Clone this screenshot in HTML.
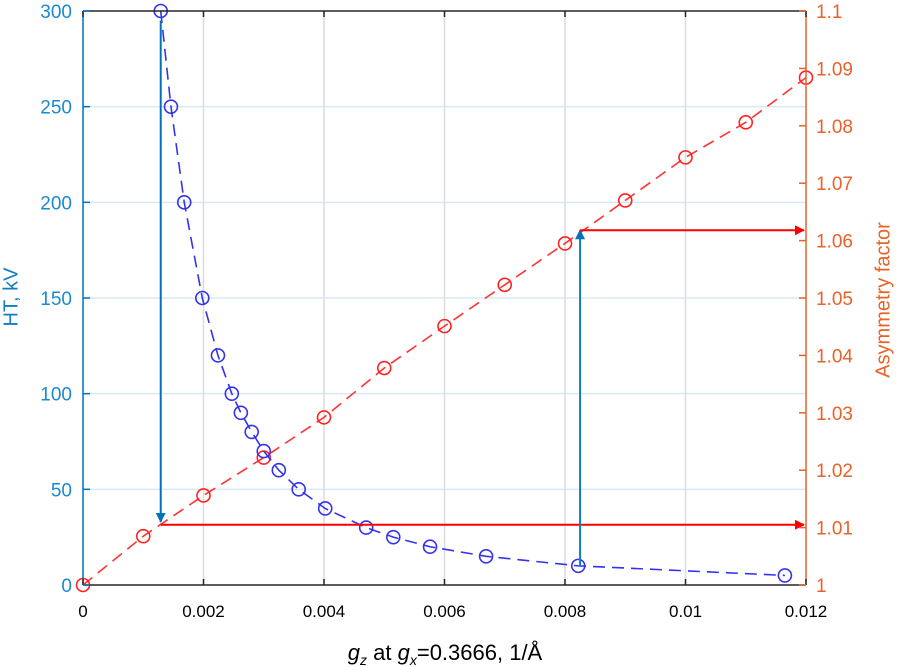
<!DOCTYPE html>
<html><head><meta charset="utf-8"><style>
body{margin:0;background:#fff;}
svg{display:block;font-family:"Liberation Sans",sans-serif;}
</style></head><body>
<svg id="chart" width="900" height="667" xmlns="http://www.w3.org/2000/svg">
<defs>
<marker id="ahB" markerWidth="10" markerHeight="10" refX="9" refY="5" orient="auto" markerUnits="userSpaceOnUse"><path d="M0,0 L10,5 L0,10 z" fill="#0072BD"/></marker>
<marker id="ahR" markerWidth="10" markerHeight="10" refX="9" refY="5" orient="auto" markerUnits="userSpaceOnUse"><path d="M0,0 L10,5 L0,10 z" fill="#ff0000"/></marker>
</defs>
<g id="grid"></g>
<g id="series"></g>
<g id="axes"></g>
<text x="12" y="297" transform="rotate(-90 12 297)" text-anchor="middle" dominant-baseline="middle" font-size="20" fill="#0f7dc2">HT, kV</text>
<text x="884" y="300" transform="rotate(-90 884 300)" text-anchor="middle" dominant-baseline="middle" font-size="20" fill="#e8622a">Asymmetry factor</text>
<text x="445" y="660" text-anchor="middle" font-size="22" fill="#000"><tspan font-style="italic">g</tspan><tspan font-style="italic" font-size="14" dy="5">z</tspan><tspan dy="-5"> at </tspan><tspan font-style="italic">g</tspan><tspan font-style="italic" font-size="14" dy="5">x</tspan><tspan dy="-5">=0.3666, 1/Å</tspan></text>
</svg>
<script>
const xTicks=[0,0.002,0.004,0.006,0.008,0.01,0.012];
const xTickLabels=["0","0.002","0.004","0.006","0.008","0.01","0.012"];
const leftTicks=[0,50,100,150,200,250,300];
const rightTicks=[1,1.01,1.02,1.03,1.04,1.05,1.06,1.07,1.08,1.09,1.1];
const rightTickLabels=["1","1.01","1.02","1.03","1.04","1.05","1.06","1.07","1.08","1.09","1.1"];
const htX=[0.00129,0.00146,0.00168,0.00198,0.00224,0.00247,0.00262,0.0028,0.003,0.00325,0.00358,0.00402,0.0047,0.00515,0.00576,0.00669,0.00822,0.01165];
const htY=[300,250,200,150,120,100,90,80,70,60,50,40,30,25,20,15,10,5];
const asymX=[0,0.001,0.002,0.003,0.004,0.005,0.006,0.007,0.008,0.009,0.01,0.011,0.012];
const asymY=[1.0,1.0085,1.0156,1.0222,1.0292,1.0378,1.0451,1.0523,1.0595,1.067,1.0745,1.0806,1.0884];
const L=83,R=806,T=11,B=585;
const sx=v=>L+(v-0)/(0.012)*(R-L);
const syL=v=>B-(v/300)*(B-T);
const syR=v=>B-((v-1)/0.1)*(B-T);
const NS="http://www.w3.org/2000/svg";
function mk(tag,attrs,parent,text){const e=document.createElementNS(NS,tag);for(const k in attrs)e.setAttribute(k,attrs[k]);if(text!==undefined)e.textContent=text;parent.appendChild(e);return e;}
const gridG=document.getElementById('grid'),seriesG=document.getElementById('series'),axesG=document.getElementById('axes');
leftTicks.forEach(t=>{if(t===0||t===300)return;const l=mk('line',{x1:L,x2:R,y1:syL(t),y2:syL(t),stroke:'#d6eaf6','stroke-width':1.5},gridG);

});
xTicks.forEach(t=>{if(t===0||t===0.012)return;const l=mk('line',{x1:sx(t),x2:sx(t),y1:T,y2:B,stroke:'#dcdcdc','stroke-width':1.5},gridG);

});
const rp=mk('polyline',{points:asymX.map((x,i)=>sx(x)+','+syR(asymY[i])).join(' '),fill:'none',stroke:'#ff3333','stroke-width':1.6,'stroke-dasharray':'12 7'},seriesG);


asymX.forEach((x,i)=>{const c=mk('circle',{cx:sx(x),cy:syR(asymY[i]),r:6.5,fill:'none',stroke:'#ff2222','stroke-width':1.6},seriesG);

});
const bp=mk('polyline',{points:htX.map((x,i)=>sx(x)+','+syL(htY[i])).join(' '),fill:'none',stroke:'#3333ee','stroke-width':1.6,'stroke-dasharray':'12 7'},seriesG);


htX.forEach((x,i)=>{const c=mk('circle',{cx:sx(x),cy:syL(htY[i]),r:6.5,fill:'none',stroke:'#3333ee','stroke-width':1.6},seriesG);

});
const a1=mk('line',{x1:sx(htX[0]),y1:syL(295),x2:sx(htX[0]),y2:syL(33),stroke:'#0072BD','stroke-width':2,'marker-end':'url(#ahB)'},seriesG);


const a2=mk('line',{x1:sx(htX[0]),y1:syL(31.5),x2:R-2,y2:syL(31.5),stroke:'#ff0000','stroke-width':2,'marker-end':'url(#ahR)'},seriesG);


const a3=mk('line',{x1:sx(0.00825),y1:syL(10),x2:sx(0.00825),y2:syR(1.0618),stroke:'#0f7dc2','stroke-width':2,'marker-end':'url(#ahB)'},seriesG);


const a4=mk('line',{x1:sx(0.00825),y1:syR(1.0618),x2:R-2,y2:syR(1.0618),stroke:'#ff0000','stroke-width':2,'marker-end':'url(#ahR)'},seriesG);


const topAxis=mk('line',{x1:L,x2:R,y1:T,y2:T,stroke:'#262626','stroke-width':1.5},axesG);


const botAxis=mk('line',{x1:L,x2:R,y1:B,y2:B,stroke:'#262626','stroke-width':1.5},axesG);


const leftAxis=mk('line',{x1:L,x2:L,y1:T,y2:B,stroke:'#0072BD','stroke-width':1.5},axesG);


const rightAxis=mk('line',{x1:R,x2:R,y1:T,y2:B,stroke:'#e8622a','stroke-width':1.5},axesG);


xTicks.forEach((t,i)=>{mk('line',{x1:sx(t),x2:sx(t),y1:B,y2:B-6,stroke:'#262626','stroke-width':1.5},axesG);
mk('line',{x1:sx(t),x2:sx(t),y1:T,y2:T+6,stroke:'#262626','stroke-width':1.5},axesG);
const tx=mk('text',{x:sx(t),y:B+32,'text-anchor':'middle','font-size':17,fill:'#000'},axesG,xTickLabels[i]);

});
leftTicks.forEach(t=>{mk('line',{x1:L,x2:L+7,y1:syL(t),y2:syL(t),stroke:'#0072BD','stroke-width':1.5},axesG);
const tx=mk('text',{x:72,y:syL(t)+7,'text-anchor':'end','font-size':19,fill:'#1a8ad0'},axesG,String(t));

});
rightTicks.forEach((t,i)=>{mk('line',{x1:R,x2:R-7,y1:syR(t),y2:syR(t),stroke:'#e8622a','stroke-width':1.5},axesG);
const tx=mk('text',{x:816,y:syR(t)+7,'font-size':19,fill:'#e8622a'},axesG,rightTickLabels[i]);

});
</script>
</body></html>
